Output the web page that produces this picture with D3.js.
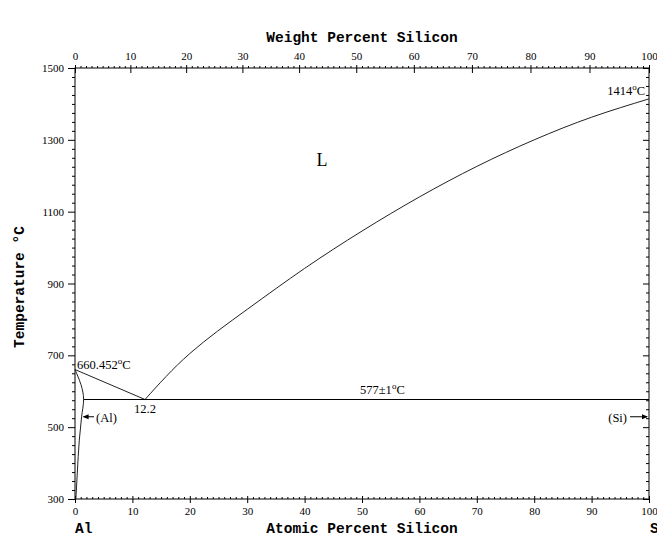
<!DOCTYPE html>
<html>
<head>
<meta charset="utf-8">
<script src="https://cdn.jsdelivr.net/npm/d3@7"></script>
<style>
  body { margin: 0; background: #fff; }
  svg { display: block; }
  .tick text { font-family: "Liberation Serif", serif; font-size: 11px; fill: #000; }
  .title { font-family: "Liberation Mono", monospace; font-weight: bold; font-size: 14.5px; }
  .lab { font-family: "Liberation Serif", serif; font-size: 12.5px; }
</style>
</head>
<body>
<svg id="chart" width="657" height="537"></svg>
<script>
// liquidus, Si side (atomic % Si, deg C)
const liqSiAt = [12.2, 20, 30, 40, 50, 60, 70, 80, 90, 100];
const liqSiT  = [577, 705, 828, 942, 1046, 1141, 1226, 1300, 1363, 1414];
// liquidus, Al side
const liqAlAt = [0, 12.2];
const liqAlT  = [660.452, 577];
// (Al) solidus + solvus
const solAt = [0, 1.5, 1.15, 0.75, 0.4, 0.15];
const solT  = [660.452, 577, 529, 464, 372, 300];
// eutectic
const eutAt = [1.5, 100];
const eutT = 577;

const tempTicks = [300, 500, 700, 900, 1100, 1300, 1500];
const atTicks = [0, 10, 20, 30, 40, 50, 60, 70, 80, 90, 100];
const wtTicks = [0, 10, 20, 30, 40, 50, 60, 70, 80, 90, 100];

const svg = d3.select("#chart");
const x = d3.scaleLinear().domain([0, 100]).range([75, 649]);
const y = d3.scaleLinear().domain([300, 1500]).range([499, 68]);

// weight % -> atomic % (Al 26.982, Si 28.086)
const wtToAt = w => (w / 28.086) / (w / 28.086 + (100 - w) / 26.982) * 100;
const wGrid = d3.range(0, 101, 1);
const xw = d3.scaleLinear().domain(wGrid).range(wGrid.map(w => x(wtToAt(w))));

const minorT = d3.range(300, 1501, 25);
const minorA = d3.range(0, 101, 1);

// left axis
const axLeft = svg.append("g").attr("transform", "translate(75,0)")
  .call(d3.axisLeft(y).tickValues(minorT).tickSize(3).tickPadding(8)
    .tickFormat(d => tempTicks.includes(d) ? d : ""));
axLeft.select(".domain").remove();
axLeft.selectAll(".tick line").attr("stroke", "#000");
axLeft.selectAll(".tick").filter(d => tempTicks.includes(d)).select("line").attr("x2", -7);

// right axis
const axRight = svg.append("g").attr("transform", "translate(649,0)")
  .call(d3.axisLeft(y).tickValues(minorT).tickSize(3).tickFormat(""));
axRight.select(".domain").remove();
axRight.selectAll(".tick line").attr("stroke", "#000");
axRight.selectAll(".tick").filter(d => tempTicks.includes(d)).select("line").attr("x2", -6);

// bottom axis (atomic %)
const axBottom = svg.append("g").attr("transform", "translate(0,499)")
  .call(d3.axisTop(x).tickValues(minorA).tickSize(2).tickFormat(""));
axBottom.select(".domain").remove();
axBottom.selectAll(".tick line").attr("stroke", "#000");
axBottom.selectAll(".tick").filter(d => atTicks.includes(d)).select("line").attr("y1", 4).attr("y2", -3);
axBottom.selectAll(".tick").filter(d => atTicks.includes(d)).append("text")
  .attr("y", 16).attr("text-anchor", "middle").text(d => d);

// top axis (weight %)
const axTop = svg.append("g").attr("transform", "translate(0,68)")
  .call(d3.axisTop(xw).tickValues(minorA).tickSize(2).tickFormat(""));
axTop.select(".domain").remove();
axTop.selectAll(".tick line").attr("stroke", "#000");
axTop.selectAll(".tick").filter(d => wtTicks.includes(d)).select("line").attr("y1", 5).attr("y2", -3);
axTop.selectAll(".tick").filter(d => wtTicks.includes(d)).append("text")
  .attr("y", -8).attr("text-anchor", "middle").text(d => d);

// frame
svg.append("rect").attr("x", x(0)).attr("y", y(1500))
  .attr("width", x(100) - x(0)).attr("height", y(300) - y(1500))
  .attr("fill", "none").attr("stroke", "#000").attr("stroke-width", 1);

// phase boundaries
const line = d3.line().x(d => x(d[0])).y(d => y(d[1]));
const curve = d3.line().x(d => x(d[0])).y(d => y(d[1])).curve(d3.curveNatural);
svg.append("path").attr("d", curve(d3.zip(liqSiAt, liqSiT)))
  .attr("fill", "none").attr("stroke", "#222").attr("stroke-width", 1);
svg.append("path").attr("d", line(d3.zip(liqAlAt, liqAlT)))
  .attr("fill", "none").attr("stroke", "#222").attr("stroke-width", 1);
svg.append("path").attr("d", d3.line().x(d => x(d[0])).y(d => y(d[1])).curve(d3.curveMonotoneY)(d3.zip(solAt, solT)))
  .attr("fill", "none").attr("stroke", "#222").attr("stroke-width", 1);
svg.append("path").attr("d", line(eutAt.map(a => [a, eutT])))
  .attr("fill", "none").attr("stroke", "#000").attr("stroke-width", 1);

// titles
svg.append("text").attr("class", "title").attr("x", 362).attr("y", 42)
  .attr("text-anchor", "middle").text("Weight Percent Silicon");
svg.append("text").attr("class", "title").attr("x", 362).attr("y", 533)
  .attr("text-anchor", "middle").text("Atomic Percent Silicon");
svg.append("text").attr("class", "title").attr("transform", "translate(24,287) rotate(-90)")
  .attr("text-anchor", "middle").text("Temperature °C");
svg.append("text").attr("class", "title").attr("x", 75).attr("y", 533).text("Al");
svg.append("text").attr("class", "title").attr("x", 650).attr("y", 533).text("Si");

// annotations
function degLabel(px, py, num, anchor) {
  const t = svg.append("text").attr("class", "lab").attr("x", px).attr("y", py).attr("text-anchor", anchor || "start");
  t.append("tspan").text(num);
  t.append("tspan").attr("dy", -5).attr("font-size", 9).text("o");
  t.append("tspan").attr("dy", 5).text("C");
}
degLabel(77, 369, "660.452");
degLabel(645, 95, "1414", "end");
degLabel(360, 394, "577±1");
svg.append("text").attr("class", "lab").attr("x", 145).attr("y", 413).attr("text-anchor", "middle").text("12.2");
svg.append("text").attr("x", 322).attr("y", 166).attr("text-anchor", "middle")
  .attr("font-family", "Liberation Serif, serif").attr("font-size", 18).text("L");

// phase labels with arrows
svg.append("text").attr("class", "lab").attr("x", 96).attr("y", 422).text("(Al)");
svg.append("line").attr("x1", x(1.15) + 2).attr("x2", 94).attr("y1", y(529)).attr("y2", y(529)).attr("stroke", "#000");
svg.append("path").attr("d", d3.line()([[x(1.15) + 1, y(529)], [x(1.15) + 7, y(529) - 2.5], [x(1.15) + 7, y(529) + 2.5]])).attr("fill", "#000");
svg.append("text").attr("class", "lab").attr("x", 627).attr("y", 422).attr("text-anchor", "end").text("(Si)");
svg.append("line").attr("x1", 630).attr("x2", x(100) - 2).attr("y1", y(529)).attr("y2", y(529)).attr("stroke", "#000");
svg.append("path").attr("d", d3.line()([[x(100) - 1, y(529)], [x(100) - 7, y(529) - 2.5], [x(100) - 7, y(529) + 2.5]])).attr("fill", "#000");
</script>
</body>
</html>
